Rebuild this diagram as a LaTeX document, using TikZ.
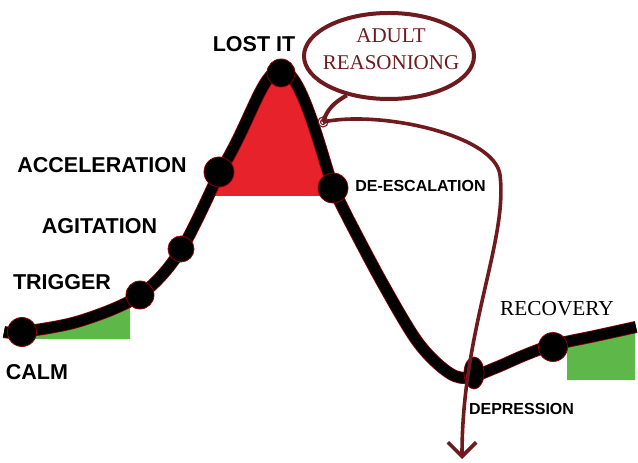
\documentclass[tikz,border=0pt]{standalone}
\usepackage{fontspec}
\setmainfont{Liberation Serif}
\setsansfont{Liberation Sans}
\usetikzlibrary{shapes.geometric,arrows.meta}
\definecolor{wine}{HTML}{6E1A1E}
\definecolor{hotred}{HTML}{E8222B}
\definecolor{leaf}{HTML}{5DB849}

\begin{document}
\begin{tikzpicture}[
  x=1bp, y=-1bp,
  stage/.style={font=\sffamily\bfseries\fontsize{21.5bp}{24bp}\selectfont, inner sep=0pt},
  small/.style={font=\sffamily\bfseries\fontsize{16bp}{18bp}\selectfont, inner sep=0pt},
  thought/.style={font=\fontsize{21bp}{26.5bp}\selectfont, text=wine, align=center, inner sep=0pt},
  dot/.style={circle, fill=black, draw=red!55!black, line width=0.8bp, inner sep=0pt},
  wineline/.style={draw=wine, line width=4bp},
]
\useasboundingbox (0,0) rectangle (638,463);
\fill[hotred] (214,196) -- (219,173) .. controls (250,125) and (262,70) .. (281,70)
  .. controls (300,70) and (318,140) .. (333,188) -- (334,196) -- cycle;
\fill[leaf] (25,339) -- (130,339) -- (130,300) -- cycle;
\fill[leaf] (567,340) -- (567,380) -- (635,380) -- (635,325) -- cycle;
\draw[draw=red!55!black, line width=0.8bp, double=black, double distance=10.5bp]
  plot[smooth, tension=0.55] coordinates {(4,332) (22,332) (80,321) (140,295) (181,250)
  (219,173)} .. controls (250,125) and (262,70) .. (281,70)
  .. controls (300,70) and (318,140) .. (333,188)
  plot[smooth, tension=0.55] coordinates {(333,188) (350,222) (383,284) (417,341)
  (445,370) (466,378) (495,368) (525,355) (553,345) (595,336) (636,327)};
\node[dot, minimum size=29bp] (calm) at (22,332) {};
\node[dot, minimum size=28bp] (trigger) at (140,295) {};
\node[dot, minimum size=26bp] (agitation) at (181,249) {};
\node[dot, minimum size=30bp] (accel) at (219,172) {};
\node[dot, minimum size=28bp] (lost) at (281,73) {};
\node[dot, minimum size=30bp] (deesc) at (333,188) {};
\node[dot, ellipse, minimum width=20bp, minimum height=32bp] (depress) at (474,373) {};
\node[dot, minimum size=29bp] (recover) at (553,347) {};
\node[stage] (lostlbl) at (254,44.5) {LOST IT};
\node[stage] (accellbl) at (102,165) {ACCELERATION};
\node[stage] (agitlbl) at (99.5,226) {AGITATION};
\node[stage] (triglbl) at (62,282) {TRIGGER};
\node[stage] (calmlbl) at (37,372.5) {CALM};
\node[small] (deesclbl) at (420.5,186) {DE-ESCALATION};
\node[small] (depresslbl) at (521.5,408.5) {DEPRESSION};
\node[font=\fontsize{21.3bp}{24bp}\selectfont, inner sep=0pt] (recovlbl) at (557,309) {RECOVERY};
\node[ellipse, wineline, minimum width=170bp, minimum height=86bp] (bubble) at (389,56) {};
\node[thought] (adult) at (391,49) {ADULT\\REASONIONG};
\coordinate (spiral) at (323,122);
\draw[wine, line width=1.1bp] (spiral) circle (2.5bp) (spiral) circle (5bp);
\draw[wineline] (bubble.223) .. controls (333,103) and (327,110) .. (spiral);
\draw[wineline, line width=3.6bp, -{Straight Barb[length=5mm,width=10mm]}] (spiral)
  .. controls (380,110) and (495,135) .. (500,175)
  .. controls (508,240) and (462,330) .. (462,459);
\end{tikzpicture}
\end{document}
